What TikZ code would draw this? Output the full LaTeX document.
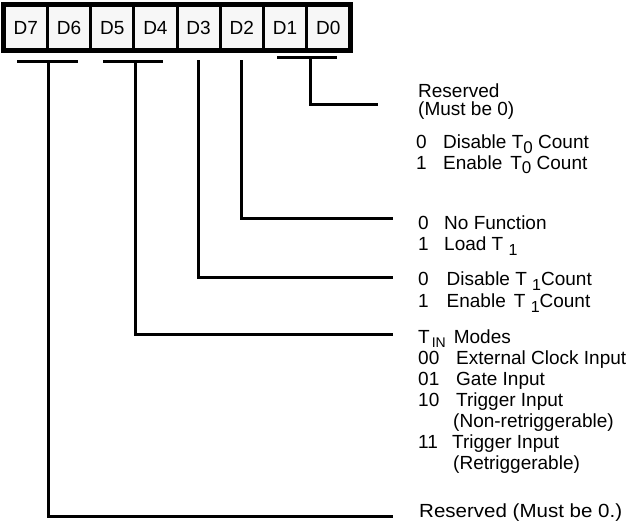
\documentclass[tikz,border=0pt]{standalone}
\usepackage{fontspec}
\setmainfont{Liberation Sans}
\newfontfamily\widefont[FakeStretch=1.08]{Liberation Sans}
\newcommand{\subl}[3]{\raisebox{-#1pt}{\fontsize{#2}{#2}\selectfont #3}}
\newcommand{\numc}[2]{\makebox[#1pt][l]{#2}}
\begin{document}
\begin{tikzpicture}[x=1pt,y=-1pt,
  every node/.style={font=\fontsize{19}{22}\selectfont},
  cell/.style={draw=black,line width=3pt,fill=black!3,minimum width=43.2pt,minimum height=44pt,inner sep=0pt,text height=13.6pt,text depth=0pt},
  txt/.style={anchor=base west,inner sep=0pt},
  wire/.style={line width=3pt,line cap=butt},
  frame/.style={line width=3.5pt}]
\useasboundingbox (0,0) rectangle (629,522);
% register cells
\node[cell] (d7) at (25.8,27.5) {D7};
\node[cell] (d6) at (69.0,27.5) {D6};
\node[cell] (d5) at (112.2,27.5) {D5};
\node[cell] (d4) at (155.4,27.5) {D4};
\node[cell] (d3) at (198.6,27.5) {D3};
\node[cell] (d2) at (241.8,27.5) {D2};
\node[cell] (d1) at (285.0,27.5) {D1};
\node[cell] (d0) at (328.2,27.5) {D0};
\draw[frame] (d7.north west) rectangle (d0.south east);
% bars under bit groups
\coordinate (b76l) at (17,61);  \coordinate (b76r) at (78,61);  \coordinate (b76) at (48,61);
\coordinate (b54l) at (103,61); \coordinate (b54r) at (163,61); \coordinate (b54) at (135,61);
\coordinate (b3) at (198,60);
\coordinate (b2) at (241,60);
\coordinate (b10l) at (277,57.5); \coordinate (b10r) at (337,57.5); \coordinate (b10) at (310,57.5);
\draw[wire] (b76l) -- (b76r);
\draw[wire] (b54l) -- (b54r);
\draw[wire] (b10l) -- (b10r);
% line ends
\coordinate (e10) at (378,104);
\coordinate (e2) at (393,218);
\coordinate (e3) at (393,277);
\coordinate (e54) at (393,334);
\coordinate (e76) at (393,516);
\draw[wire] (b10) |- (e10);
\draw[wire] (b2) |- (e2);
\draw[wire] (b3) |- (e3);
\draw[wire] (b54) |- (e54);
\draw[wire] (b76) |- (e76);
% texts
\node[txt] (r0a) at (418,97) {Reserved};
\node[txt] (r0b) at (418,115) {(Must be 0)};
\node[txt] (t0a) at (416,148) {\numc{27}{0}Disable T\subl{5}{17}{0} Count};
\node[txt] (t0b) at (416,169.5) {\numc{27}{1}Enable\hspace{8pt}T\subl{4}{17}{0} Count};
\node[txt] (l1a) at (418,229) {\numc{26}{0}No Function};
\node[txt] (l1b) at (418,250) {\numc{26}{1}Load T \subl{5}{16}{1}};
\node[txt] (c1a) at (418,285) {\numc{28.5}{0}Disable T \subl{5}{16}{1}Count};
\node[txt] (c1b) at (418,307) {\numc{28.5}{1}Enable\hspace{8pt}T \subl{5}{16}{1}Count};
\node[txt] (m0) at (418,343) {T\kern2pt\subl{4}{14}{IN}\kern8pt Modes};
\node[txt] (m1) at (418,364) {\numc{38}{00}External Clock Input};
\node[txt] (m2) at (418,385) {\numc{38}{01}Gate Input};
\node[txt] (m3) at (418,406) {\numc{38}{10}Trigger Input};
\node[txt] (m4) at (453,427) {(Non-retriggerable)};
\node[txt] (m5) at (418,448) {\numc{34}{11}Trigger Input};
\node[txt] (m6) at (453,469) {(Retriggerable)};
\node[txt] (r7) at (419,517) {\widefont Reserved (Must be 0.)};
\end{tikzpicture}
\end{document}
